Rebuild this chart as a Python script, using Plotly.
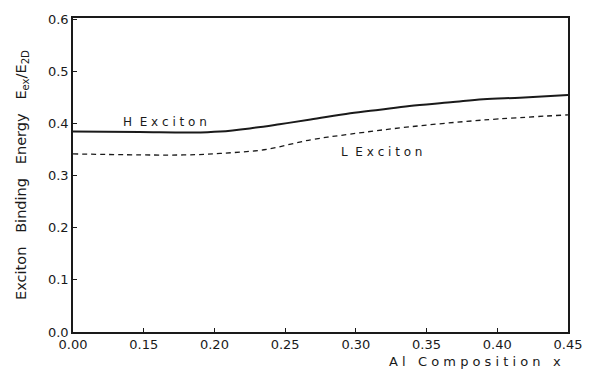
import plotly.graph_objects as go

# x positions on the drawn (linear) axis scale
h_x = [0.100, 0.147, 0.185, 0.204, 0.225, 0.246, 0.268, 0.296, 0.317, 0.338, 0.367, 0.390, 0.416, 0.450]
h_y = [0.385, 0.384, 0.383, 0.385, 0.391, 0.399, 0.408, 0.420, 0.427, 0.434, 0.441, 0.447, 0.450, 0.455]

l_x = [0.100, 0.178, 0.204, 0.235, 0.268, 0.296, 0.338, 0.390, 0.450]
l_y = [0.342, 0.340, 0.343, 0.350, 0.369, 0.380, 0.394, 0.407, 0.417]

x_tickvals = [0.10, 0.15, 0.20, 0.25, 0.30, 0.35, 0.40, 0.45]
x_ticktext = ["0.00", "0.15", "0.20", "0.25", "0.30", "0.35", "0.40", "0.45"]
y_tickvals = [0.0, 0.1, 0.2, 0.3, 0.4, 0.5, 0.6]
y_ticktext = ["0.0", "0.1", "0.2", "0.3", "0.4", "0.5", "0.6"]

FONT = "DejaVu Sans"
INK = "#1a1a1a"

fig = go.Figure()
fig.add_trace(go.Scatter(x=h_x, y=h_y, mode="lines", line=dict(color=INK, width=2, shape="spline"),
                         showlegend=False, hoverinfo="skip"))
fig.add_trace(go.Scatter(x=l_x, y=l_y, mode="lines", line=dict(color=INK, width=1.3, dash="5px,4px", shape="spline"),
                         showlegend=False, hoverinfo="skip"))

fig.add_annotation(x=0.165, y=0.403, text="H  E x c i t o n", showarrow=False,
                   font=dict(family=FONT, size=12, color=INK))
fig.add_annotation(x=0.318, y=0.346, text="L  E x c i t o n", showarrow=False,
                   font=dict(family=FONT, size=12, color=INK))

sp = "\u00a0\u00a0\u00a0"
fig.update_layout(
    width=600, height=374,
    margin=dict(l=73, r=32, t=12, b=42),
    paper_bgcolor="white", plot_bgcolor="white",
    font=dict(family=FONT, size=13, color=INK),
    xaxis=dict(range=[0.10, 0.45], tickvals=x_tickvals, ticktext=x_ticktext,
               ticks="inside", ticklen=4, tickcolor=INK, showgrid=False, zeroline=False,
               showline=True, linecolor=INK, linewidth=1.5, mirror=True,
               tickfont=dict(size=13)),
    yaxis=dict(range=[0, 0.603], tickvals=y_tickvals, ticktext=y_ticktext,
               ticks="inside", ticklen=4, tickcolor=INK, showgrid=False, zeroline=False,
               showline=True, linecolor=INK, linewidth=1.5, mirror=True,
               tickfont=dict(size=13),
               title=dict(text="Exciton" + sp + "Binding" + sp + "Energy" + sp + "E<sub>ex</sub>/E<sub>2D</sub>",
                          font=dict(size=14.5), standoff=18)),
)
fig.add_annotation(xref="paper", yref="paper", x=0.99, y=0, yshift=-20, xanchor="right", yanchor="top",
                   text="A l\u00a0\u00a0 C o m p o s i t i o n\u00a0\u00a0 x", showarrow=False,
                   font=dict(family=FONT, size=13, color=INK))

fig.write_html("out.html")
